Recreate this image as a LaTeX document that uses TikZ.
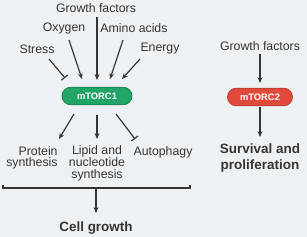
\documentclass[tikz,border=0pt]{standalone}
\usepackage{fontspec}
\setmainfont{Liberation Sans}
\usepackage{tikz}
\usetikzlibrary{arrows.meta,positioning,shapes.misc}
\definecolor{Ink}{HTML}{353535}
\definecolor{Paper}{HTML}{EDF1F3}
\definecolor{Leaf}{HTML}{22A467}
\definecolor{Brick}{HTML}{E04A3B}

\begin{document}
\begin{tikzpicture}[x=0.03cm,y=-0.03cm,
  lbl/.style={font=\fontsize{10.5}{9.4}\selectfont\color{Ink},inner sep=1pt,align=center},
  res/.style={font=\fontsize{11.5}{13.6}\selectfont\bfseries\color{Ink},inner sep=1pt,align=center},
  pill/.style={rounded rectangle,draw=#1!80!black,fill=#1,line width=0.6pt,text=white,
    font=\fontsize{8}{9}\selectfont\bfseries,minimum height=0.53cm,inner sep=0pt},
  act/.style={draw=Ink,line width=1pt,-{Stealth[length=5pt,width=4.2pt]}},
  inh/.style={draw=Ink,line width=1pt,-{Bar[width=7pt,line width=1pt]}}]
\path[use as bounding box] (0,0) rectangle (307,237);
\fill[Paper] (0,0) rectangle (307,237);

% inputs to mTORC1
\foreach \nm/\x/\y/\txt in {gfa/96/8/Growth factors,oxy/64/28/Oxygen,amino/134/28/Amino acids,stress/37/49/Stress,energy/160/49/Energy}{
  \node[lbl] (\nm) at (\x,\y) {\txt};
}
\node[pill=Leaf,minimum width=2.1cm] (m1) at (97,96) {mTORC1};

\draw[act] ([shift={(1,9)}]gfa.center) -- ([shift={(0,-16)}]m1.center);
\draw[act] ([shift={(5,12)}]oxy.center) -- ([shift={(-15,-17)}]m1.center);
\draw[act] ([shift={(-11,12)}]amino.center) -- ([shift={(13,-17)}]m1.center);
\draw[act] ([shift={(-20,10)}]energy.center) -- ([shift={(25,-17)}]m1.center);
\draw[inh] ([shift={(12,10)}]stress.center) -- ([shift={(-32,-18)}]m1.center);

% outputs
\node[lbl,align=right,anchor=east] (prot) at (59,157.5) {Protein\\synthesis};
\node[lbl] (lipid) at (97,163) {Lipid and\\nucleotide\\synthesis};
\node[lbl] (auto) at (163,152) {Autophagy};

\draw[act] ([shift={(-23,18)}]m1.center) -- ([shift={(0,-18.5)}]prot.east);
\draw[act] ([shift={(0,19)}]m1.center) -- ([shift={(0,-24)}]lipid.center);
\draw[inh] ([shift={(19,18)}]m1.center) -- ([shift={(-28,-13)}]auto.center);

% bracket
\draw[Ink,line width=1pt] (3,185) -- (3,188) -- (190,188) -- (190,185);
\coordinate (brk) at (96,188);
\node[res] (cell) at (96,228) {Cell growth};
\draw[act] (brk) -- ([shift={(0,-15)}]cell.center);

% mTORC2
\node[lbl] (gfb) at (260,46) {Growth factors};
\node[pill=Brick,minimum width=1.95cm] (m2) at (260,97) {mTORC2};
\node[res] (surv) at (260,158) {Survival and\\proliferation};
\draw[act] ([shift={(0,8)}]gfb.center) -- ([shift={(0,-14)}]m2.center);
\draw[act] ([shift={(0,10)}]m2.center) -- ([shift={(0,-21)}]surv.center);
\end{tikzpicture}
\end{document}
